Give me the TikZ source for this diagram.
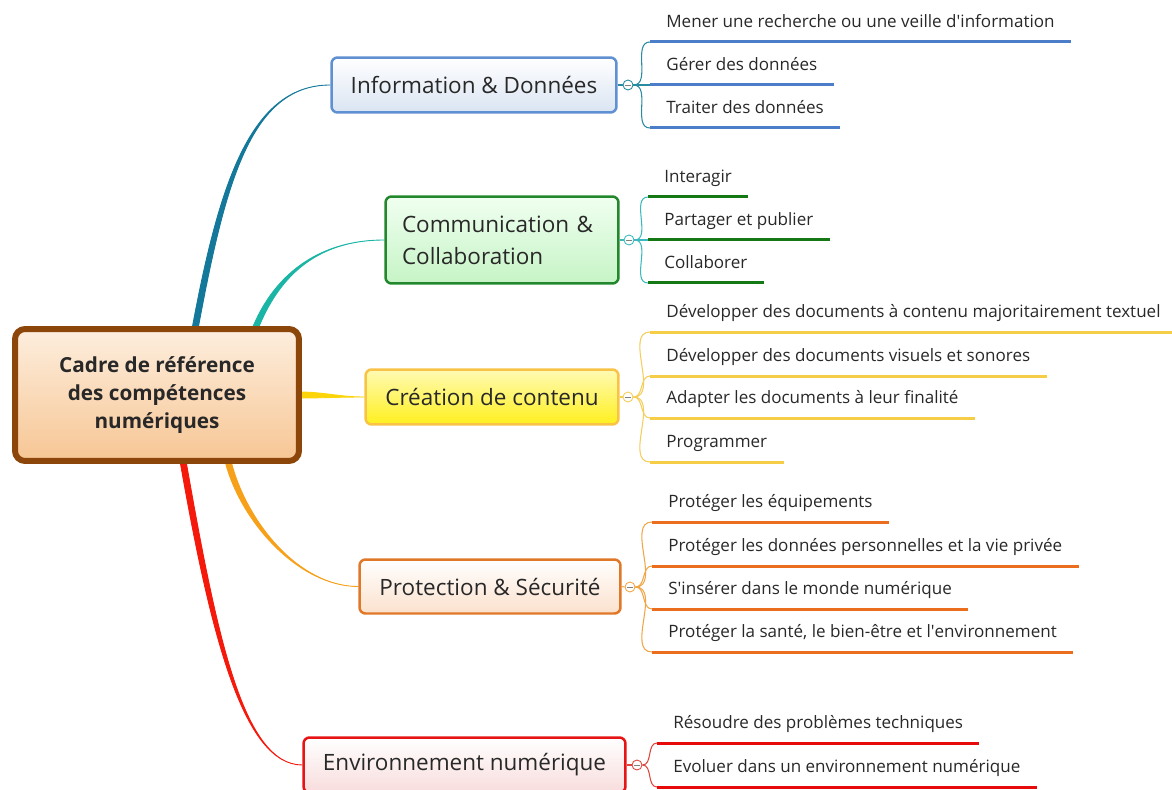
\documentclass[tikz,border=0pt]{standalone}
\usepackage{fontspec}
\setmainfont{Open Sans}
\usetikzlibrary{calc,backgrounds}

\definecolor{inktext}{RGB}{40,40,40}
\definecolor{rootline}{RGB}{140,70,10}
\definecolor{infoline}{RGB}{95,145,210}
\definecolor{commline}{RGB}{35,135,45}
\definecolor{crealine}{RGB}{248,195,70}
\definecolor{protline}{RGB}{225,120,40}
\definecolor{envline}{RGB}{230,20,20}
\definecolor{infotrunk}{RGB}{19,120,154}
\definecolor{commtrunk}{RGB}{27,181,165}
\definecolor{creatrunk}{RGB}{252,212,10}
\definecolor{prottrunk}{RGB}{247,160,26}
\definecolor{envtrunk}{RGB}{245,25,12}
\definecolor{infotwig}{RGB}{40,140,160}
\definecolor{commtwig}{RGB}{60,185,190}
\definecolor{creatwig}{RGB}{245,205,90}
\definecolor{prottwig}{RGB}{240,165,70}
\definecolor{envtwig}{RGB}{220,70,60}
\definecolor{infoul}{RGB}{75,125,200}
\definecolor{commul}{RGB}{20,120,20}
\definecolor{creaul}{RGB}{245,205,70}
\definecolor{protul}{RGB}{235,110,30}
\definecolor{envul}{RGB}{230,10,10}

\newcommand{\trunk}[6]{%
  \filldraw[#1, line width=0.5pt] ($(#2)+(#3)$) .. controls ($(#2)+(#3)+(#4)$) and ($(#6)+(#5)$) .. (#6)
    .. controls ($(#6)+(#5)$) and ($(#2)-(#3)+(#4)$) .. ($(#2)-(#3)$) -- cycle;}

\begin{document}
\begin{tikzpicture}[x=0.02cm, y=-0.02cm,
                    root/.style={draw=rootline, line width=0.12cm, rounded corners=0.2cm, align=center,
                                 top color={rgb,255:red,253;green,238;blue,222}, bottom color={rgb,255:red,247;green,198;blue,148},
                                 minimum width=5.68cm, minimum height=2.64cm, text=inktext,
                                 font=\fontsize{11.8}{15.9}\selectfont\bfseries},
                    mainbox/.style={draw=#1, line width=0.05cm, rounded corners=0.12cm, text=inktext,
                                    font=\fontsize{12.8}{18}\selectfont},
                    sub/.style={anchor=south west, inner xsep=0.32cm, inner ysep=0.2cm, text depth=0.25em,
                                text=inktext, font=\fontsize{9.7}{11}\selectfont},
                    ul/.style={line width=0.06cm, #1},
                    twig/.style={line width=0.6pt, #1},
                    fold/.style={circle, draw=#1, fill=white, line width=0.5pt, minimum size=0.2cm, inner sep=0pt,
                                 path picture={\draw[gray, line width=0.4pt] ([xshift=-0.06cm]path picture bounding box.center)
                                               -- ([xshift=0.06cm]path picture bounding box.center);}}]

\useasboundingbox (0,0) rectangle (1172,790);

\node [root] (root) at (157,395) {Cadre de référence\\des compétences\\numériques};

\node [mainbox=infoline, top color=white, bottom color={rgb,255:red,218;green,228;blue,242},
       minimum width=5.7cm, minimum height=1.1cm] (info) at (474,85) {Information \& Données};
\node [mainbox=commline, top color={rgb,255:red,240;green,255;blue,240}, bottom color={rgb,255:red,198;green,244;blue,198},
       minimum width=4.66cm, minimum height=1.74cm, align=left, text width=4.0cm,
       font=\fontsize{12.8}{18.2}\selectfont] (comm) at (502,240) {Communication \&\\Collaboration};
\node [mainbox=crealine, top color={rgb,255:red,255;green,250;blue,180}, bottom color={rgb,255:red,255;green,240;blue,30},
       minimum width=5.06cm, minimum height=1.1cm] (crea) at (492,397) {Création de contenu};
\node [mainbox=protline, top color=white, bottom color={rgb,255:red,251;green,225;blue,205},
       minimum width=5.22cm, minimum height=1.08cm] (prot) at (490,586.5) {Protection \& Sécurité};
\node [mainbox=envline, top color=white, bottom color={rgb,255:red,248;green,220;blue,220},
       minimum width=6.44cm, minimum height=1.1cm] (env) at (464.5,765) {Environnement numérique};

\coordinate (rinfo) at ($(root.north)+(38,3)$);
\coordinate (rcomm) at ($(root.north)+(98,3)$);
\coordinate (rcrea) at ($(root.east)+(-3,0)$);
\coordinate (rprot) at ($(root.south)+(71,-3)$);
\coordinate (renv) at ($(root.south)+(26,-3)$);

\begin{scope}[on background layer]
\trunk{infotrunk}{rinfo}{3,0}{27,-145}{-80,0}{info.west}
\trunk{commtrunk}{rcomm}{3,0}{20,-50}{-70,0}{comm.west}
\trunk{creatrunk}{rcrea}{0,3}{25,0}{-25,0}{crea.west}
\trunk{prottrunk}{rprot}{3,0}{15,60}{-60,0}{prot.west}
\trunk{envtrunk}{renv}{3,0}{30,170}{-60,0}{env.west}
\end{scope}

% Information & Données
\node [fold=infotwig] (ifold) at (628,85) {};
\node [sub] (i1) at (650,42) {Mener une recherche ou une veille d\textquotesingle information};
\node [sub] (i2) at (650,85) {Gérer des données};
\node [sub] (i3) at (650,128) {Traiter des données};
\draw [twig=infotwig] (info.east) -- (ifold.west);
\foreach \n in {i1,i2,i3} {
  \draw [twig=infotwig] (ifold.east) to[out=0,in=180] (\n.south west);
  \draw [ul=infoul] (\n.south west) -- (\n.south east);
}

% Communication & Collaboration
\node [fold=commtwig] (cfold) at (629,240) {};
\node [sub] (c1) at (648,197) {Interagir};
\node [sub] (c2) at (648,240) {Partager et publier};
\node [sub] (c3) at (648,283) {Collaborer};
\draw [twig=commtwig] (comm.east) -- (cfold.west);
\foreach \n in {c1,c2,c3} {
  \draw [twig=commtwig] (cfold.east) to[out=0,in=180] (\n.south west);
  \draw [ul=commul] (\n.south west) -- (\n.south east);
}

% Création de contenu
\node [fold=creatwig] (kfold) at (628,397) {};
\node [sub] (k1) at (650,332) {Développer des documents à contenu majoritairement textuel};
\node [sub] (k2) at (650,376) {Développer des documents visuels et sonores};
\node [sub] (k3) at (650,418) {Adapter les documents à leur finalité};
\node [sub] (k4) at (650,462) {Programmer};
\draw [twig=creatwig] (crea.east) -- (kfold.west);
\foreach \n in {k1,k2,k3,k4} {
  \draw [twig=creatwig] (kfold.east) to[out=0,in=180] (\n.south west);
  \draw [ul=creaul] (\n.south west) -- (\n.south east);
}

% Protection & Sécurité
\node [fold=prottwig] (pfold) at (630,587) {};
\node [sub] (p1) at (652,522) {Protéger les équipements};
\node [sub] (p2) at (652,566) {Protéger les données personnelles et la vie privée};
\node [sub] (p3) at (652,609) {S\textquotesingle insérer dans le monde numérique};
\node [sub] (p4) at (652,652) {Protéger la santé, le bien-être et l\textquotesingle environnement};
\draw [twig=prottwig] (prot.east) -- (pfold.west);
\foreach \n in {p1,p2,p3,p4} {
  \draw [twig=prottwig] (pfold.east) to[out=0,in=180] (\n.south west);
  \draw [ul=protul] (\n.south west) -- (\n.south east);
}

% Environnement numérique
\node [fold=envtwig] (efold) at (637,765) {};
\node [sub] (e1) at (657,743) {Résoudre des problèmes techniques};
\node [sub] (e2) at (657,787) {Evoluer dans un environnement numérique};
\draw [twig=envtwig] (env.east) -- (efold.west);
\foreach \n in {e1,e2} {
  \draw [twig=envtwig] (efold.east) to[out=0,in=180] (\n.south west);
  \draw [ul=envul] (\n.south west) -- (\n.south east);
}
\end{tikzpicture}
\end{document}
